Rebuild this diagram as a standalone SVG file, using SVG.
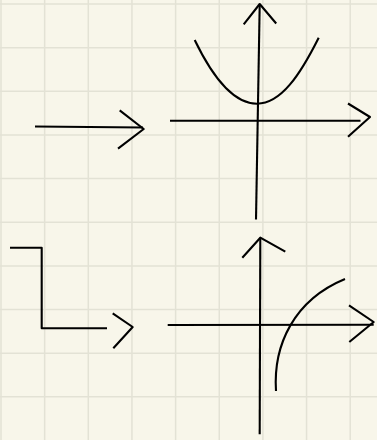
<svg xmlns="http://www.w3.org/2000/svg" width="377" height="440" viewBox="0 0 377 440">
<style>
.grid line{stroke:#e3e2d5;stroke-width:1.5}
.ink{fill:none;stroke:#000;stroke-width:2.1;stroke-linejoin:round;stroke-linecap:butt}
</style>
<rect width="377" height="440" fill="#f8f6ea"/>
<g class="grid">
<line x1="1" y1="0" x2="1" y2="440"/>
<line x1="44.65" y1="0" x2="44.65" y2="440"/>
<line x1="88.3" y1="0" x2="88.3" y2="440"/>
<line x1="131.95" y1="0" x2="131.95" y2="440"/>
<line x1="175.6" y1="0" x2="175.6" y2="440"/>
<line x1="219.25" y1="0" x2="219.25" y2="440"/>
<line x1="262.9" y1="0" x2="262.9" y2="440"/>
<line x1="306.55" y1="0" x2="306.55" y2="440"/>
<line x1="350.2" y1="0" x2="350.2" y2="440"/>
<line x1="0" y1="4" x2="377" y2="4"/>
<line x1="0" y1="47.65" x2="377" y2="47.65"/>
<line x1="0" y1="91.3" x2="377" y2="91.3"/>
<line x1="0" y1="134.95" x2="377" y2="134.95"/>
<line x1="0" y1="178.6" x2="377" y2="178.6"/>
<line x1="0" y1="222.25" x2="377" y2="222.25"/>
<line x1="0" y1="265.9" x2="377" y2="265.9"/>
<line x1="0" y1="309.55" x2="377" y2="309.55"/>
<line x1="0" y1="353.2" x2="377" y2="353.2"/>
<line x1="0" y1="396.85" x2="377" y2="396.85"/>
</g>
<g id="arrow1" class="ink">
<path d="M35,126.5 L143,127.5"/>
<path d="M119.7,110.3 L143.7,129 L118,148.7"/>
</g>
<g id="graph1" class="ink">
<path d="M256,219.5 L259.7,4.5"/>
<path d="M243.7,24.3 L259.7,4 L276.2,23.5"/>
<path d="M170,120.7 L360.5,120.7"/>
<path d="M348,103.5 L370,117 L348,136.7"/>
<path d="M194.7,40 C 214,80 234,103.7 257,103.7 C 281,103.7 300,75 318.7,37.7"/>
</g>
<g id="arrow2" class="ink">
<path d="M10,247.7 L41.7,247.7 L41.7,328.3 L107,328.3"/>
<path d="M112.7,313.3 L132.7,327 L113.3,348.3"/>
</g>
<g id="graph2" class="ink">
<path d="M167.7,325 L373.7,324.7"/>
<path d="M349,305.3 L373.7,322 L349.3,342"/>
<path d="M259.7,434.3 L260.3,237.7"/>
<path d="M242.3,257.7 L260.3,237.7 L285.3,251.7"/>
<path d="M276,391 C 273,345 294,300 345,279"/>
</g>
</svg>
